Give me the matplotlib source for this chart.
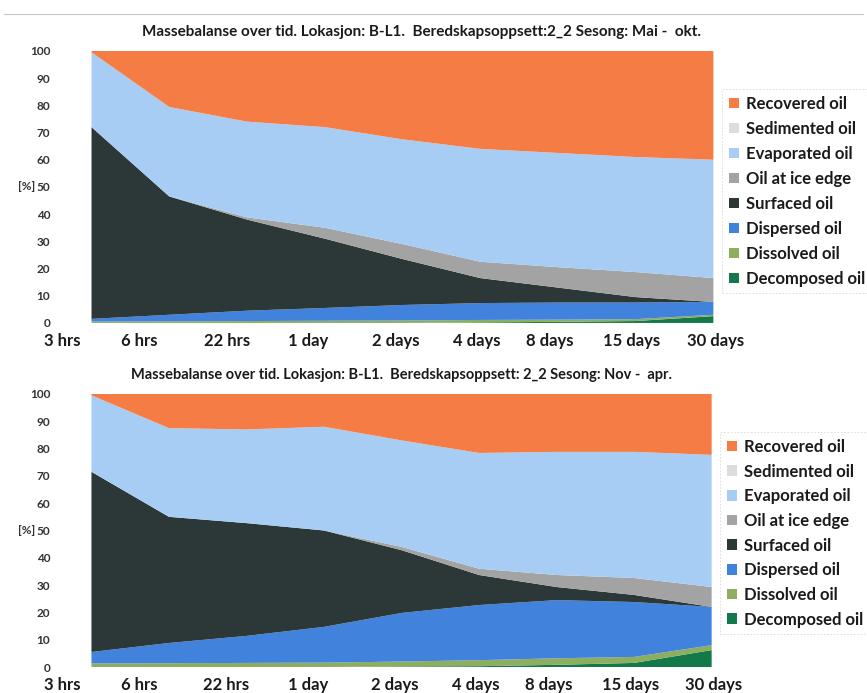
import numpy as np
import matplotlib
matplotlib.use("Agg")
import matplotlib.pyplot as plt
from matplotlib.patches import Patch
from matplotlib.lines import Line2D

plt.rcParams['font.family'] = ['Lato', 'DejaVu Sans']

# Time steps on the x axis
time_labels = ['3 hrs', '6 hrs', '22 hrs', '1 day', '2 days', '4 days', '8 days', '15 days', '30 days']

# Components in stacking order (bottom -> top), legend shows them top -> bottom
components = ['Decomposed oil', 'Dissolved oil', 'Dispersed oil', 'Surfaced oil',
              'Oil at ice edge', 'Evaporated oil', 'Sedimented oil', 'Recovered oil']
colors = ['#13784a', '#8cae5e', '#4182dc', '#2c3838',
          '#a3a3a3', '#a8cdf4', '#dcdcdc', '#f57d45']

# Mass balance [%], season Mai - okt
summer_decomposed  = [0.0, 0.0, 0.0, 0.0, 0.0, 0.2, 0.4, 0.7, 2.5]
summer_dissolved   = [0.5, 0.6, 0.7, 0.8, 0.9, 0.9, 0.8, 0.7, 0.5]
summer_dispersed   = [1.0, 2.4, 3.8, 4.7, 5.7, 6.2, 6.3, 6.1, 4.7]
summer_surfaced    = [70.5, 43.5, 33.5, 25.5, 16.9, 9.2, 5.5, 2.0, 0.0]
summer_ice_edge    = [0.0, 0.0, 0.8, 4.0, 5.5, 6.0, 7.5, 9.2, 8.8]
summer_evaporated  = [27.5, 32.9, 35.2, 37.0, 38.5, 41.5, 42.0, 42.3, 43.5]
summer_sedimented  = [0.0, 0.0, 0.0, 0.0, 0.0, 0.0, 0.0, 0.0, 0.0]
summer_recovered   = [0.5, 20.6, 26.0, 28.0, 32.5, 36.0, 37.5, 39.0, 40.0]

# Mass balance [%], season Nov - apr
winter_decomposed  = [0.0, 0.0, 0.0, 0.0, 0.2, 0.3, 0.8, 1.5, 6.2]
winter_dissolved   = [1.3, 1.4, 1.5, 1.6, 1.8, 2.2, 2.4, 2.2, 1.8]
winter_dispersed   = [4.2, 7.4, 9.9, 13.1, 17.8, 20.2, 21.3, 20.1, 14.0]
winter_surfaced    = [66.0, 46.2, 41.3, 35.3, 23.0, 11.0, 4.8, 2.6, 0.0]
winter_ice_edge    = [0.0, 0.0, 0.0, 0.0, 1.2, 2.3, 4.4, 6.2, 7.3]
winter_evaporated  = [28.0, 32.5, 34.3, 38.0, 39.0, 42.4, 45.1, 46.2, 48.4]
winter_sedimented  = [0.0, 0.0, 0.0, 0.0, 0.0, 0.0, 0.0, 0.0, 0.0]
winter_recovered   = [0.5, 12.5, 13.0, 12.0, 17.0, 21.6, 21.2, 21.2, 22.3]

summer = [summer_decomposed, summer_dissolved, summer_dispersed, summer_surfaced,
          summer_ice_edge, summer_evaporated, summer_sedimented, summer_recovered]
winter = [winter_decomposed, winter_dissolved, winter_dispersed, winter_surfaced,
          winter_ice_edge, winter_evaporated, winter_sedimented, winter_recovered]

title_summer = 'Massebalanse over tid. Lokasjon: B-L1.  Beredskapsoppsett:2_2 Sesong: Mai -  okt.'
title_winter = 'Massebalanse over tid. Lokasjon: B-L1.  Beredskapsoppsett: 2_2 Sesong: Nov -  apr.'

# the category labels sit a bit left of the data points on the early steps
label_shift = [-0.38, -0.38, -0.26, -0.21, -0.09, -0.04, -0.1, -0.05, 0.03]

fig = plt.figure(figsize=(8.67, 6.93), dpi=100)
ax1 = fig.add_axes([0.0715, 0.534, 0.754, 0.3925])
ax2 = fig.add_axes([0.0715, 0.0375, 0.752, 0.394])

# faint header rule across the page
fig.add_artist(Line2D([0.005, 0.995], [0.98, 0.98], color='#c8c8c8', lw=0.8,
                      transform=fig.transFigure))

x = np.arange(len(time_labels))


def draw_panel(ax, layers, title, title_size, title_x, spacing):
    ax.stackplot(x, *layers, colors=colors, linewidth=0)
    ax.set_xlim(0, len(x) - 1)
    ax.set_ylim(0, 100)
    ax.set_yticks(range(0, 101, 10))
    ax.set_xticks(x + np.array(label_shift))
    ax.set_xticklabels(time_labels, fontsize=12, fontweight='bold', color='#1a1a1a')
    for lab in ax.get_yticklabels():
        lab.set_fontsize(8.5)
        lab.set_fontweight('bold')
        lab.set_color('#333333')
    ax.tick_params(axis='both', length=0)
    ax.tick_params(axis='y', pad=8.5)
    ax.tick_params(axis='x', pad=7)
    for s in ax.spines.values():
        s.set_visible(False)
    ax.text(-0.041, 0.5, '[%]', transform=ax.transAxes, ha='right', va='center',
            fontsize=8.5, fontweight='bold', color='#333333')
    ax.set_title(title, fontsize=title_size, fontweight='bold', color='#1a1a1a',
                 pad=11, x=title_x)

    handles = [Patch(facecolor=c, edgecolor='none') for c in colors[::-1]]
    leg = ax.legend(handles, components[::-1], loc='upper left',
                    bbox_to_anchor=(1.01, 0.86), frameon=True,
                    prop={'family': 'Lato', 'weight': 'bold', 'size': 12},
                    handlelength=0.6, handleheight=0.6, handletextpad=0.4,
                    labelspacing=spacing, borderpad=0.4, borderaxespad=0,
                    fancybox=False)
    leg.get_frame().set_edgecolor('#d0d0d0')
    leg.get_frame().set_linewidth(0.6)
    leg.get_frame().set_linestyle((0, (2, 2)))
    for t in leg.get_texts():
        t.set_color('#1a1a1a')


draw_panel(ax1, summer, title_summer, 11, 0.55, 0.54)
draw_panel(ax2, winter, title_winter, 10.5, 0.52, 0.52)

fig.savefig('out.png', dpi=100)
